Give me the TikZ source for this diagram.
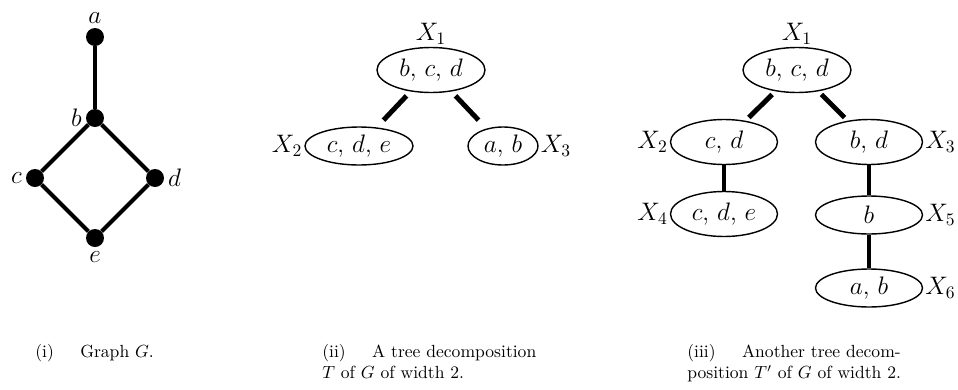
\documentclass[tikz,border=0pt]{standalone}
\usetikzlibrary{shapes.geometric,calc}

\tikzset{
  vtx/.style={circle, fill=black, inner sep=0pt, minimum size=0.36cm},
  gedge/.style={line width=2.4pt},
  bag/.style={ellipse, draw, line width=0.8pt, inner sep=0pt,
    minimum width=2.14cm, minimum height=0.9cm, font=\fontsize{14}{17}\selectfont},
  tedge/.style={line width=2.8pt},
  capt/.style={anchor=north west, inner sep=0pt, align=left, font=\normalsize},
  every label/.style={font=\fontsize{14}{17}\selectfont, inner sep=1pt}
}

\begin{document}
\begin{tikzpicture}
  \useasboundingbox (0,0) rectangle (19.16,7.78);

  % graph G
  \node[vtx, label={[label distance=1pt]above:$a$}] (a) at (1.9,7.04) {};
  \node[vtx, label={[label distance=1pt]left:$b$}] (b) at (1.9,5.42) {};
  \node[vtx, label={[label distance=1pt]left:$c$}] (c) at (0.7,4.22) {};
  \node[vtx, label={[label distance=1pt]right:$d$}] (d) at (3.1,4.22) {};
  \node[vtx, label={[label distance=1pt]below:$e$}] (e) at (1.9,3.02) {};

  \draw[gedge] (a) -- (b);
  \draw[gedge] (b) -- (c) -- (e) -- (d) -- (b);

  % tree decomposition T
  \node[bag, minimum width=2.16cm, minimum height=0.9cm, label=above:$X_1$] (t1) at (8.62,6.38) {$b$, $c$, $d$};
  \node[bag, minimum width=2.16cm, minimum height=0.76cm, label=left:$X_2$] (t2) at (7.18,4.86) {$c$, $d$, $e$};
  \node[bag, minimum width=1.4cm, minimum height=0.76cm, label=right:$X_3$] (t3) at (10.06,4.86) {$a$, $b$};

  \draw[tedge] ($(t1)!0.34!(t2)$) -- ($(t1)!0.66!(t2)$);
  \draw[tedge] ($(t1)!0.34!(t3)$) -- ($(t1)!0.66!(t3)$);

  % tree decomposition T'
  \node[bag, minimum width=2.16cm, label=above:$X_1$] (s1) at (15.94,6.38) {$b$, $c$, $d$};
  \node[bag, label=left:$X_2$] (s2) at (14.48,4.94) {$c$, $d$};
  \node[bag, label=right:$X_3$] (s3) at (17.38,4.94) {$b$, $d$};
  \node[bag, label=left:$X_4$] (s4) at (14.48,3.5) {$c$, $d$, $e$};
  \node[bag, minimum height=0.76cm, label=right:$X_5$] (s5) at (17.38,3.48) {$b$};
  \node[bag, minimum height=0.76cm, label=right:$X_6$] (s6) at (17.38,2.02) {$a$, $b$};

  \draw[tedge] ($(s1)!0.34!(s2)$) -- ($(s1)!0.66!(s2)$);
  \draw[tedge] ($(s1)!0.34!(s3)$) -- ($(s1)!0.66!(s3)$);
  \draw[tedge] (s2) -- (s4);
  \draw[tedge] (s3) -- (s5);
  \draw[tedge] (s5) -- (s6);

  % captions
  \node[capt] (cap1) at (0.7,0.9) {(i)\hspace{1.5em}Graph $G$.};
  \node[capt] (cap2) at (6.44,0.9) {(ii)\hspace{1.5em}A tree decomposition\\$T$ of $G$ of width 2.};
  \node[capt] (cap3) at (13.74,0.9) {(iii)\hspace{1.5em}Another tree decom-\\position $T'$ of $G$ of width 2.};
\end{tikzpicture}
\end{document}
